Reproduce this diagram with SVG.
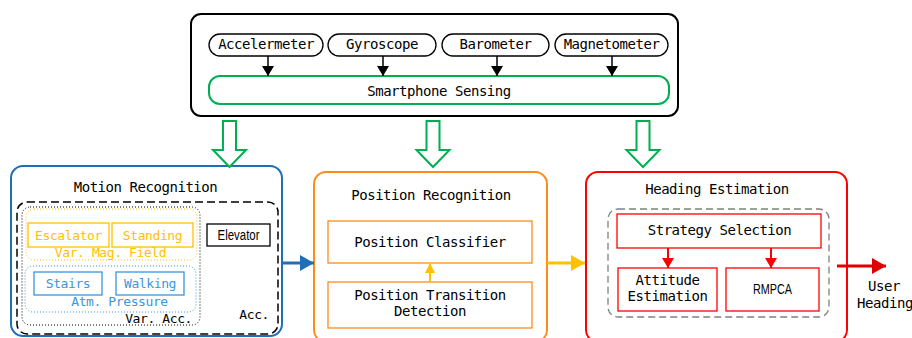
<svg xmlns="http://www.w3.org/2000/svg" width="912" height="338" viewBox="0 0 912 338">
<defs>
<style>
text{font-family:"DejaVu Sans Mono","Liberation Mono",monospace;font-size:14px;letter-spacing:-0.45px;text-anchor:middle;fill:#000}
.sm{font-size:13px;letter-spacing:-0.4px}
.arial{font-family:"Liberation Sans",Arial,sans-serif;letter-spacing:0}
.ye{fill:#FFC000}
.lb{fill:#3A96DD}
.pill{fill:#fff;stroke:#000;stroke-width:1.3}
.big{fill:#fff;stroke-width:2}
.hollow{fill:#fff;stroke:#00B050;stroke-width:2}
</style>
<marker id="mBlack" viewBox="0 0 10 12" refX="10" refY="6" markerWidth="10" markerHeight="12" markerUnits="userSpaceOnUse" orient="auto"><path d="M0,0 L10,6 L0,12 Z" fill="#000"/></marker>
<marker id="mRed" viewBox="0 0 10 12" refX="10" refY="6" markerWidth="10" markerHeight="12" markerUnits="userSpaceOnUse" orient="auto"><path d="M0,0 L10,6 L0,12 Z" fill="#FF0000"/></marker>
<marker id="mYellowS" viewBox="0 0 10 10" refX="10" refY="5" markerWidth="10" markerHeight="10" markerUnits="userSpaceOnUse" orient="auto"><path d="M0,0 L10,5 L0,10 Z" fill="#FFC000"/></marker>
<marker id="mYellowL" viewBox="0 0 14 16" refX="14" refY="8" markerWidth="14" markerHeight="16" markerUnits="userSpaceOnUse" orient="auto"><path d="M0,0 L14,8 L0,16 Z" fill="#FFC000"/></marker>
<marker id="mBlue" viewBox="0 0 14 16" refX="14" refY="8" markerWidth="14" markerHeight="16" markerUnits="userSpaceOnUse" orient="auto"><path d="M0,0 L14,8 L0,16 Z" fill="#1F6FB8"/></marker>
<marker id="mRedL" viewBox="0 0 14 16" refX="14" refY="8" markerWidth="14" markerHeight="16" markerUnits="userSpaceOnUse" orient="auto"><path d="M0,0 L14,8 L0,16 Z" fill="#E00000"/></marker>
</defs>

<g id="sensing">
<rect x="191" y="14" width="487" height="102" rx="10" class="big" stroke="#000"/>
<rect x="209" y="76" width="460" height="28" rx="11" fill="#fff" stroke="#00B050" stroke-width="2"/>
<text x="439" y="96">Smartphone Sensing</text>
</g>
<g id="accelerometer"><rect x="209" y="34" width="114" height="22" rx="11" class="pill"/><text x="266" y="49">Accelermeter</text></g>
<g id="gyroscope"><rect x="328" y="34" width="108" height="22" rx="11" class="pill"/><text x="382" y="49">Gyroscope</text></g>
<g id="barometer"><rect x="442" y="34" width="107" height="22" rx="11" class="pill"/><text x="495.5" y="49">Barometer</text></g>
<g id="magnetometer"><rect x="555" y="34" width="113" height="22" rx="11" class="pill"/><text x="611.5" y="49">Magnetometer</text></g>

<g id="motion">
<rect x="11" y="166" width="271" height="170" rx="12" class="big" stroke="#1F6FB8"/>
<text x="145.5" y="192">Motion Recognition</text>
<rect x="17" y="202" width="261" height="132" rx="10" fill="none" stroke="#000" stroke-width="1.5" stroke-dasharray="8,4"/>
<rect x="22" y="207" width="178" height="118" rx="8" fill="none" stroke="#000" stroke-width="1" stroke-dasharray="1,2"/>
<rect x="26" y="209" width="171" height="51" rx="8" fill="none" stroke="#FFC000" stroke-width="1" stroke-dasharray="1,2"/>
<rect x="25" y="266" width="171" height="46" rx="8" fill="none" stroke="#3A96DD" stroke-width="1" stroke-dasharray="1,2"/>
<rect x="28" y="223" width="81" height="24" fill="#fff" stroke="#FFC000" stroke-width="1.3"/>
<text x="68.5" y="240" class="sm ye">Escalator</text>
<rect x="112" y="223" width="81" height="24" fill="#fff" stroke="#FFC000" stroke-width="1.3"/>
<text x="152.5" y="240" class="sm ye">Standing</text>
<text x="110.5" y="257" class="sm ye">Var. Mag. Field</text>
<rect x="34" y="272" width="68" height="23" fill="#fff" stroke="#3A96DD" stroke-width="1.3"/>
<text x="68" y="288" class="sm lb">Stairs</text>
<rect x="116" y="272" width="68" height="23" fill="#fff" stroke="#3A96DD" stroke-width="1.3"/>
<text x="150" y="288" class="sm lb">Walking</text>
<text x="119.5" y="306" class="sm lb">Atm. Pressure</text>
<text x="192" y="323" class="sm" style="text-anchor:end">Var. Acc.</text>
<text x="269" y="319" class="sm" style="text-anchor:end">Acc.</text>
<rect x="207" y="224" width="63" height="22" fill="#fff" stroke="#000" stroke-width="1.3"/>
<text x="238.5" y="240" class="arial" font-size="14" textLength="42" lengthAdjust="spacingAndGlyphs">Elevator</text>
</g>

<g id="position">
<rect x="314" y="172" width="233" height="170" rx="12" class="big" stroke="#FF8C1A"/>
<text x="431" y="200">Position Recognition</text>
<rect x="328" y="221" width="204" height="42" fill="#fff" stroke="#FF8C1A" stroke-width="1.3"/>
<text x="430" y="247">Position Classifier</text>
<rect x="328" y="282" width="204" height="46" fill="#fff" stroke="#FF8C1A" stroke-width="1.3"/>
<text x="430" y="300">Position Transition</text>
<text x="430" y="316">Detection</text>
</g>

<g id="heading">
<rect x="586" y="172" width="261" height="170" rx="12" class="big" stroke="#FF0000"/>
<text x="717" y="194">Heading Estimation</text>
<rect x="608" y="209" width="221" height="108" rx="10" fill="none" stroke="#808080" stroke-width="1.3" stroke-dasharray="7,4"/>
<rect x="617" y="214" width="204" height="34" fill="#fff" stroke="#FF0000" stroke-width="1.3"/>
<text x="719.5" y="235">Strategy Selection</text>
<rect x="618" y="268" width="99" height="43" fill="#fff" stroke="#FF0000" stroke-width="1.3"/>
<text x="667.5" y="285">Attitude</text>
<text x="667.5" y="301">Estimation</text>
<rect x="726" y="268" width="93" height="43" fill="#fff" stroke="#FF0000" stroke-width="1.3"/>
<text x="772.5" y="294" class="arial" font-size="16" textLength="39" lengthAdjust="spacingAndGlyphs">RMPCA</text>
</g>

<g id="connectors">
<line x1="268" y1="56" x2="268" y2="76" stroke="#000" stroke-width="1.5" marker-end="url(#mBlack)"/>
<line x1="383" y1="56" x2="383" y2="76" stroke="#000" stroke-width="1.5" marker-end="url(#mBlack)"/>
<line x1="497" y1="56" x2="497" y2="76" stroke="#000" stroke-width="1.5" marker-end="url(#mBlack)"/>
<line x1="612" y1="56" x2="612" y2="76" stroke="#000" stroke-width="1.5" marker-end="url(#mBlack)"/>
<polygon class="hollow" points="223,121 236,121 236,150 246,150 229.5,167 213,150 223,150"/>
<polygon class="hollow" points="426.5,121 439.5,121 439.5,150 449.5,150 433,167 416.5,150 426.5,150"/>
<polygon class="hollow" points="636.5,121 649.5,121 649.5,150 659.5,150 643,167 626.5,150 636.5,150"/>
<line x1="282" y1="263" x2="314" y2="263" stroke="#1F6FB8" stroke-width="3" marker-end="url(#mBlue)"/>
<line x1="430" y1="282" x2="430" y2="263" stroke="#FFC000" stroke-width="2" marker-end="url(#mYellowS)"/>
<line x1="547" y1="263" x2="585" y2="263" stroke="#FFC000" stroke-width="3" marker-end="url(#mYellowL)"/>
<line x1="668" y1="248" x2="668" y2="268" stroke="#FF0000" stroke-width="2" marker-end="url(#mRed)"/>
<line x1="771" y1="248" x2="771" y2="268" stroke="#FF0000" stroke-width="2" marker-end="url(#mRed)"/>
<line x1="837" y1="266" x2="886" y2="266" stroke="#E00000" stroke-width="3" marker-end="url(#mRedL)"/>
</g>
<text x="884" y="291">User</text>
<text x="885" y="308">Heading</text>
</svg>
